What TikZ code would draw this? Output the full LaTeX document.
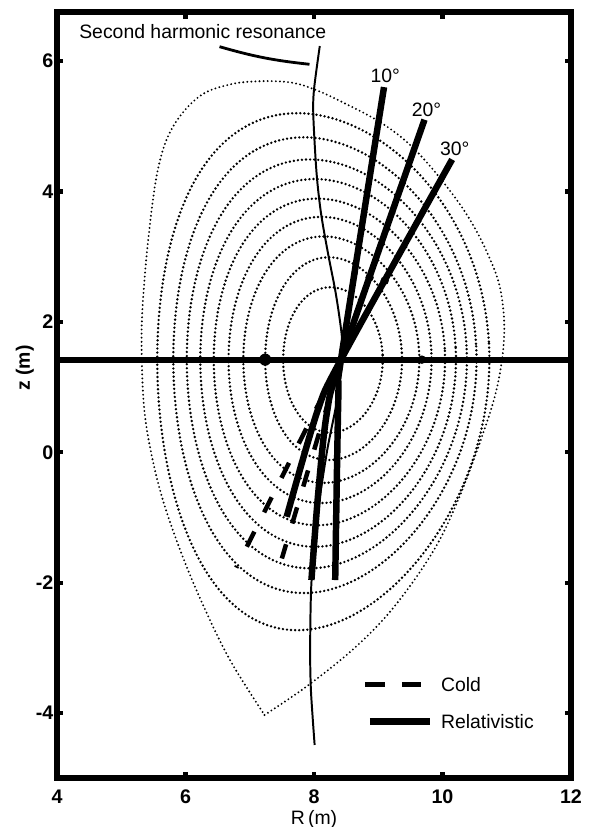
\documentclass[tikz,border=0pt]{standalone}
\usepackage{fontspec}
\setmainfont{Liberation Sans}
\usetikzlibrary{
	arrows.meta,
	positioning,
	calc
}

\begin{document}
\begin{tikzpicture}[
			x=1.60625cm,
			y=1.63cm,
			font=\fontsize{13.8}{16}\selectfont,
			contorno/.style={
					line width=1.9pt,
					line cap=round,
					dash pattern=on 0pt off 2.9pt
				},
			moldura/.style={line width=3.9pt},
			tique/.style={line width=3pt},
			raiorel/.style={line width=4.6pt},
			raiofrio/.style={line width=3.2pt, dash pattern=on 12pt off 15.4pt},
			numero/.style={font=\fontsize{14}{16}\selectfont\bfseries}
		]
		\useasboundingbox (3.113,-5.748) rectangle (12.311,6.936);

		% superficies de fluxo
		\foreach \rc/\a/\ht/\hb/\d in {
				8.295/0.775/1.11/1.12/3,
				8.305/1.065/1.57/1.54/4,
				8.27/1.37/1.89/1.89/5,
				8.25/1.58/2.19/2.20/5,
				8.24/1.80/2.47/2.54/6,
				8.22/1.99/2.77/2.87/6,
				8.20/2.18/3.07/3.20/7,
				8.17/2.36/3.41/3.58/8,
				8.145/2.585/3.78/4.15/9}
			\draw[contorno] plot[smooth cycle, domain=0:356, samples=90]
			({\rc + \a*cos(\x + \d*sin(\x))}, {1.42 + sin(\x)*((\ht+\hb)/2 + (\ht-\hb)/2*sin(\x))});
		\draw[contorno, line width=1.5pt] plot[smooth, tension=0.6] coordinates {
				(7.23,-4.03) (7.93,-3.56) (8.69,-2.95) (9.28,-2.33) (9.86,-1.51) (10.24,-0.74)
				(10.6,0.2) (10.85,1.0) (10.96,1.8) (10.9,2.5) (10.7,3.05) (10.4,3.61) (9.99,4.17)
				(9.52,4.69) (9.05,5.05) (8.46,5.36) (8.02,5.56) (7.64,5.67) (7.16,5.69) (6.69,5.64)
				(6.22,5.46) (5.81,5.0) (5.58,4.38) (5.43,3.35) (5.33,2.2) (5.32,1.42) (5.36,0.64)
				(5.47,-0.03) (5.65,-0.74) (5.94,-1.56) (6.29,-2.38) (6.70,-3.2) (7.23,-4.03)};

		% ressonancia
		\draw[line width=1.4pt] plot[smooth] coordinates {
				(8.09,6.23) (8.0,5.56) (7.99,5.15) (8.04,4.28) (8.11,3.66) (8.22,3.04) (8.34,2.43)
				(8.43,1.81) (8.44,1.42) (8.36,0.8) (8.2,0.0) (8.05,-1.0) (7.96,-2.0) (7.94,-3.0)
				(7.95,-3.6) (7.98,-4.08) (8.01,-4.49)};
		\node[anchor=west] (res) at (4.27,6.45) {Second harmonic resonance};
		\coordinate (p1) at (6.53,6.22);
		\coordinate (p2) at (7.93,5.95);
		\draw[line width=2pt] (p1) to[bend right=5] (p2);

		% plano medio
		\draw[line width=4.3pt] (4,1.42) -- (12,1.42);
		\fill (7.24,1.42) circle (4.3pt);
		\fill (9.68,1.42) circle (3pt);

		% raios
		\coordinate (foco) at (8.42,1.42);
		\draw[raiofrio] (foco) -- (6.79,-1.77);
		\draw[raiofrio] (foco) -- (7.50,-1.63);
		\draw[raiorel] plot[smooth] coordinates {(9.09,5.6) (foco) (8.38,0.9) (8.33,-1.96)};
		\draw[raiorel] plot[smooth] coordinates {(9.72,5.1) (foco) (8.2,0.6) (8.07,-0.58) (7.96,-1.96)};
		\draw[raiorel] plot[smooth] coordinates {(10.15,4.49) (foco) (8.05,0.62) (7.575,-0.99)};
		\fill (8.63,2.74) circle (2.3pt);
		\fill (8.865,2.68) circle (3pt);
		\fill (9.10,2.63) circle (3pt);
		\node (g10) at (9.11,5.77) {10°};
		\node (g20) at (9.75,5.25) {20°};
		\node (g30) at (10.19,4.66) {30°};

		% legenda
		\draw[raiofrio, dash pattern=on 14pt off 12pt] (8.80,-3.56) -- (9.66,-3.56);
		\node[anchor=west] (lfrio) at (9.9,-3.56) {Cold};
		\draw[line width=5.5pt] (8.87,-4.13) -- (9.80,-4.13);
		\node[anchor=west] (lrel) at (9.9,-4.13) {Relativistic};

		% eixos
		\draw[moldura] (4,-5) rectangle (12,6.75);
		\foreach \r in {6,8,10} {
				\draw[tique] (\r,-5) -- ++(0,0.1);
				\draw[tique] (\r,6.75) -- ++(0,-0.1);
			}
		\foreach \zz in {-4,-2,...,6} {
				\draw[tique] (4,\zz) -- ++(0.1,0);
				\draw[tique] (12,\zz) -- ++(-0.1,0);
				\node[numero, anchor=east] at (4.02,\zz) {\zz};
			}
		\foreach \r in {4,6,...,12}
			\node[numero] at (\r,-5.28) {\r};
		\node (xr) at (8,-5.63) {R\,(m)};
		\node[rotate=90, font=\fontsize{13.8}{16}\selectfont\bfseries] (xz) at (3.50,1.29) {z (m)};
	\end{tikzpicture}
\end{document}
